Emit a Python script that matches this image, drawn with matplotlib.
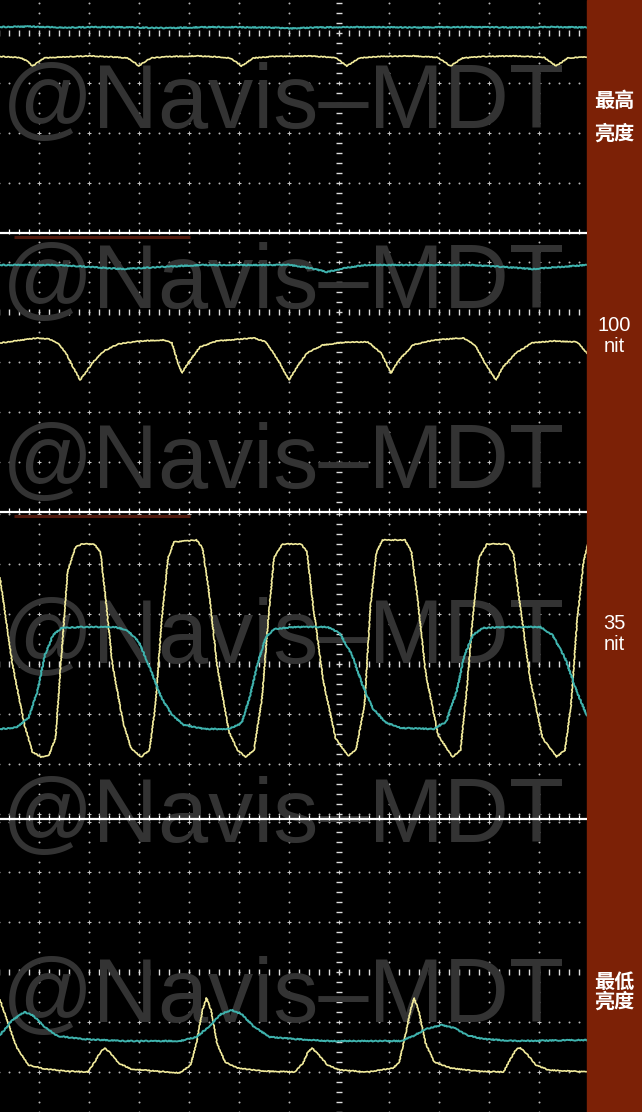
import numpy as np
import matplotlib
matplotlib.use("Agg")
import matplotlib.pyplot as plt
import matplotlib.transforms as mtransforms
from matplotlib.patches import Rectangle

W, H = 642, 1112

# traces, in screen divisions: x=0 at the centre graticule line, y=0 at the panel's centre axis
p1_yellow_x = [-6.78, -6.55, -6.36, -6.24, -6.13, -6.02, -5.90, -5.60, -5.00, -4.50, -4.24, -4.12, -4.00, -3.88, -3.76,
               -3.40, -2.80, -2.40, -2.19, -2.07, -1.95, -1.83, -1.72, -1.30, -0.60, -0.08, 0.04, 0.16, 0.28, 0.40,
               0.80, 1.50, 1.98, 2.10, 2.23, 2.35, 2.47, 2.90, 3.60, 4.10, 4.22, 4.34, 4.46, 4.58, 4.96]
p1_yellow_y = [-0.47, -0.48, -0.50, -0.56, -0.66, -0.58, -0.50, -0.48, -0.46, -0.48, -0.50, -0.57, -0.66, -0.57, -0.50,
               -0.47, -0.46, -0.48, -0.50, -0.57, -0.66, -0.58, -0.50, -0.47, -0.46, -0.49, -0.57, -0.66, -0.58, -0.50,
               -0.47, -0.46, -0.49, -0.57, -0.66, -0.58, -0.50, -0.47, -0.46, -0.49, -0.57, -0.66, -0.58, -0.50, -0.48]
p1_teal_x = [-6.78, -6.2, -5.5, -4.6, -3.5, -2.5, -1.4, -1.0, -0.5, 0.5, 1.5, 2.5, 3.5, 4.3, 4.96]
p1_teal_y = [0.12, 0.13, 0.11, 0.12, 0.10, 0.12, 0.11, 0.09, 0.11, 0.12, 0.11, 0.12, 0.11, 0.12, 0.11]

p2_yellow_x = [-6.78, -6.04, -5.80, -5.62, -5.46, -5.32, -5.18, -5.06, -4.90, -4.70, -4.42, -3.98, -3.50, -3.34, -3.22,
               -3.14, -3.02, -2.78, -2.44, -1.70, -1.46, -1.22, -1.00, -0.84, -0.64, -0.32, 0.18, 0.58, 0.84, 1.04,
               1.20, 1.48, 1.90, 2.48, 2.72, 2.92, 3.14, 3.28, 3.54, 3.86, 4.28, 4.76, 4.96]
p2_yellow_y = [-0.62, -0.52, -0.54, -0.62, -0.82, -1.10, -1.36, -1.20, -0.98, -0.78, -0.64, -0.58, -0.56, -0.62, -1.02,
               -1.22, -1.02, -0.70, -0.58, -0.52, -0.60, -0.96, -1.36, -1.10, -0.82, -0.66, -0.60, -0.60, -0.82, -1.22,
               -0.96, -0.66, -0.56, -0.52, -0.66, -1.02, -1.36, -1.10, -0.82, -0.62, -0.58, -0.60, -0.82]
p2_teal_x = [-6.78, -5.58, -4.98, -4.32, -3.58, -2.78, -0.98, -0.58, -0.24, 0.12, 0.52, 2.62, 3.32, 3.86, 4.42, 4.96]
p2_teal_y = [0.94, 0.94, 0.90, 0.86, 0.90, 0.94, 0.94, 0.88, 0.80, 0.88, 0.94, 0.94, 0.90, 0.86, 0.90, 0.94]

p3_yellow_x = [-6.78, -6.53, -6.29, -6.13, -5.96, -5.80, -5.67, -5.55, -5.43, -5.27, -5.14, -4.90, -4.77, -4.69, -4.53,
               -4.32, -4.16, -3.96, -3.79, -3.67, -3.55, -3.42, -3.30, -2.85, -2.73, -2.61, -2.44, -2.20, -2.03, -1.87,
               -1.70, -1.54, -1.42, -1.30, -1.13, -0.76, -0.64, -0.52, -0.31, -0.07, 0.18, 0.34, 0.51, 0.63, 0.75,
               0.87, 1.32, 1.45, 1.57, 1.73, 1.98, 2.27, 2.43, 2.55, 2.68, 2.80, 2.96, 3.37, 3.49, 3.62, 3.82, 4.07,
               4.35, 4.52, 4.64, 4.76, 4.89, 4.97]
p3_yellow_y = [1.72, -0.02, -1.22, -1.76, -1.86, -1.82, -1.48, 0.18, 1.84, 2.34, 2.40, 2.40, 2.24, 1.52, -0.02,
               -1.16, -1.68, -1.86, -1.72, -0.82, 0.84, 2.12, 2.44, 2.48, 2.32, 1.52, -0.02, -1.36, -1.72, -1.86,
               -1.72, -0.68, 0.84, 2.12, 2.40, 2.40, 2.24, 1.18, -0.36, -1.48, -1.84, -1.72, -0.82, 1.18, 2.24,
               2.48, 2.48, 2.24, 1.32, -0.16, -1.42, -1.86, -1.72, -0.56, 0.98, 2.12, 2.40, 2.40, 2.20, 1.18, -0.28,
               -1.48, -1.86, -1.72, -0.82, 0.84, 2.04, 2.38]
p3_teal_x = [-6.78, -6.45, -6.21, -6.04, -5.88, -5.72, -5.55, -5.14, -4.49, -4.24, -4.00, -3.75, -3.55, -3.34, -3.10,
             -2.69, -2.20, -1.95, -1.79, -1.62, -1.46, -1.30, -0.89, -0.23, 0.01, 0.26, 0.47, 0.67, 0.92, 1.24,
             1.90, 2.14, 2.35, 2.51, 2.68, 2.88, 3.37, 4.03, 4.27, 4.52, 4.76, 4.97]
p3_teal_y = [-1.30, -1.27, -1.08, -0.56, 0.18, 0.58, 0.72, 0.74, 0.74, 0.68, 0.44, -0.16, -0.68, -1.02, -1.22,
             -1.30, -1.30, -1.18, -0.68, 0.04, 0.54, 0.70, 0.74, 0.74, 0.62, 0.18, -0.42, -0.88, -1.16, -1.28,
             -1.30, -1.16, -0.56, 0.18, 0.58, 0.72, 0.74, 0.74, 0.58, 0.12, -0.56, -1.06]

p4_yellow_x = [-6.78, -6.62, -6.45, -6.21, -5.88, -5.47, -5.02, -4.90, -4.77, -4.69, -4.57, -4.41, -4.16, -3.67, -3.18,
               -2.97, -2.85, -2.73, -2.65, -2.56, -2.44, -2.28, -2.03, -1.54, -0.89, -0.72, -0.62, -0.54, -0.44, -0.23,
               0.01, 0.59, 1.08, 1.20, 1.32, 1.43, 1.50, 1.59, 1.73, 1.90, 2.23, 2.72, 3.29, 3.44, 3.55, 3.63, 3.74,
               3.94, 4.19, 4.97]
p4_yellow_y = [-0.56, -1.02, -1.50, -1.86, -1.94, -1.98, -2.00, -1.82, -1.60, -1.52, -1.62, -1.82, -1.94, -1.98, -2.02,
               -1.86, -1.42, -0.76, -0.52, -0.76, -1.42, -1.80, -1.92, -1.98, -2.00, -1.82, -1.60, -1.52, -1.62, -1.86,
               -1.96, -2.00, -1.92, -1.82, -1.30, -0.76, -0.52, -0.76, -1.42, -1.80, -1.92, -1.98, -2.00, -1.72, -1.54,
               -1.52, -1.62, -1.86, -1.96, -2.00]
p4_teal_x = [-6.78, -6.53, -6.29, -6.13, -5.88, -5.63, -5.14, -4.32, -3.18, -2.85, -2.61, -2.36, -2.15, -1.95, -1.70,
             -1.38, -0.89, -0.23, 1.24, 1.49, 1.73, 2.06, 2.31, 2.55, 2.88, 3.53, 4.97]
p4_teal_y = [-1.26, -0.96, -0.80, -0.86, -1.10, -1.28, -1.34, -1.38, -1.38, -1.30, -1.10, -0.84, -0.76, -0.84, -1.10,
             -1.30, -1.34, -1.38, -1.38, -1.28, -1.14, -1.06, -1.12, -1.26, -1.34, -1.38, -1.36]

labels = [["最高", "亮度"], ["100", "nit"], ["35", "nit"], ["最低", "亮度"]]
watermark = "@Navis–MDT"

YELLOW = "#f3ec9c"
TEAL = "#3fb3ae"
BAND = "#7c2106"

# panel layout in pixels: top, bottom, centre axis row
panels = [(0, 233, 33), (233, 512, 312), (512, 819, 664), (819, 1112, 972)]
traces = [(p1_yellow_x, p1_yellow_y, p1_teal_x, p1_teal_y),
          (p2_yellow_x, p2_yellow_y, p2_teal_x, p2_teal_y),
          (p3_yellow_x, p3_yellow_y, p3_teal_x, p3_teal_y),
          (p4_yellow_x, p4_yellow_y, p4_teal_x, p4_teal_y)]
plot_w = 587
cx = 339
div = 50
wm_baselines = [128, 308, 488, 663, 842, 1022]

fig = plt.figure(figsize=(W / 100, H / 100), dpi=100, facecolor="black")
px = mtransforms.Affine2D().scale(1 / W, -1 / H).translate(0, 1) + fig.transFigure

for (top, bot, ctr), (yx, yy, tx, ty) in zip(panels, traces):
    ax = fig.add_axes([0, 1 - bot / H, plot_w / W, (bot - top) / H])
    ax.set_xlim(-cx / div, (plot_w - cx) / div)
    ax.set_ylim((ctr - bot) / div, (ctr - top) / div)
    ax.axis("off")
    ylo, yhi = ax.get_ylim()

    # dotted graticule
    dy = np.arange(np.ceil(ylo * 5), np.floor(yhi * 5) + 1) / 5
    dx = np.arange(-34, 25) / 5
    for gx in range(-6, 5):
        if gx != 0:
            ax.plot(np.full_like(dy, gx), dy, ls="none", marker="o", ms=1.4, mew=0, color="#b8b8b8", zorder=1)
    rows = [g for g in range(int(np.ceil(ylo)), int(np.floor(yhi)) + 1) if g != 0 and g > ylo + 0.05]
    for gy in rows:
        ax.plot(dx, np.full_like(dx, gy), ls="none", marker="o", ms=1.4, mew=0, color="#b8b8b8", zorder=1)
        ax.plot(np.arange(-6, 5), np.full(11, gy), ls="none", marker="+", ms=3.5, mew=0.7, color="#c8c8c8", zorder=1)
    # centre axes with minor ticks
    ax.plot(dx, np.zeros_like(dx), ls="none", marker="|", ms=4, mew=1.0, color="#dddddd", zorder=1)
    ax.plot(np.zeros_like(dy), dy, ls="none", marker="_", ms=4, mew=1.0, color="#dddddd", zorder=1)

    for b in wm_baselines:
        ax.text(2, b, watermark, transform=px, fontsize=65, family="Liberation Sans",
                color="#333333", zorder=2, clip_on=True)

    ly, = ax.plot(yx, yy, color=YELLOW, lw=1.2, zorder=3)
    lt, = ax.plot(tx, ty, color=TEAL, lw=1.4, zorder=3)
    ly.set_sketch_params(0.4, 4, 3)
    lt.set_sketch_params(0.5, 4, 3)

# overlay: separators, red band, labels
ov = fig.add_axes([0, 0, 1, 1], zorder=5)
ov.set_xlim(0, W)
ov.set_ylim(H, 0)
ov.axis("off")
ov.patch.set_alpha(0)
ov.add_patch(Rectangle((plot_w, 0), W - plot_w, H, color=BAND, zorder=1))
ticks_x = np.arange(9, plot_w, 10)
for ys in [233, 512, 819]:
    ov.hlines(ys, 0, plot_w, color="white", lw=1.6)
    ov.vlines(ticks_x, ys - 4.5, ys + 1, color="white", lw=0.9)
ov.hlines([236.5, 515.5], 14, 190, color="#4e170b", lw=2.2)

lx = 614
cjk = ["Noto Sans CJK SC", "DejaVu Sans"]
ov.text(lx, 100, labels[0][0], ha="center", va="center", color="white", fontsize=14.5, weight="bold", family=cjk)
ov.text(lx, 133, labels[0][1], ha="center", va="center", color="white", fontsize=14.5, weight="bold", family=cjk)
ov.text(lx, 331, labels[1][0], ha="center", va="baseline", color="white", fontsize=14.5, family="Liberation Sans")
ov.text(lx, 352, labels[1][1], ha="center", va="baseline", color="white", fontsize=14.5, family="Liberation Sans")
ov.text(lx, 629, labels[2][0], ha="center", va="baseline", color="white", fontsize=14.5, family="Liberation Sans")
ov.text(lx, 650, labels[2][1], ha="center", va="baseline", color="white", fontsize=14.5, family="Liberation Sans")
ov.text(lx, 981, labels[3][0], ha="center", va="center", color="white", fontsize=14.5, weight="bold", family=cjk)
ov.text(lx, 1001, labels[3][1], ha="center", va="center", color="white", fontsize=14.5, weight="bold", family=cjk)

fig.savefig("out.png", dpi=100, facecolor="black")
